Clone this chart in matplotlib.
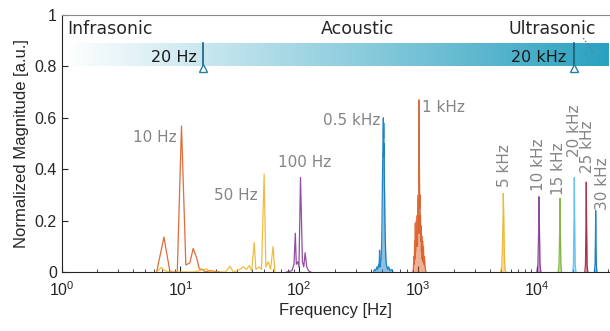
import numpy as np
import matplotlib
matplotlib.use("Agg")
import matplotlib.pyplot as plt
from matplotlib.colors import LinearSegmentedColormap

# ---------------- data ----------------
f10 = [6.3, 7.26, 8.16, 9.4, 10.2, 11.1, 12.0, 12.8, 13.7, 14.4, 15.4, 16.1, 17.7, 21.5]
m10 = [0.0, 0.136, 0.0, 0.0, 0.568, 0.027, 0.036, 0.092, 0.054, 0.012, 0.01, 0.0, 0.005, 0.0]

f50 = [6.3, 6.9, 7.4, 8.0, 13.0, 15.1, 16.6, 17.9, 24.0, 26.1, 27.8, 31.7, 33.8, 36.0, 37.9,
       39.7, 41.8, 43.1, 46.0, 48.1, 50.6, 52.3, 54.7, 57.3, 60.2, 62.3]
m50 = [0.0, 0.018, 0.005, 0.0, 0.0, 0.008, 0.012, 0.0, 0.0, 0.023, 0.0, 0.01, 0.02, 0.01, 0.025,
       0.005, 0.114, 0.01, 0.02, 0.01, 0.381, 0.02, 0.04, 0.01, 0.099, 0.0]

f100 = [78.3, 86.6, 90.3, 92.6, 94.4, 96.9, 99.4, 102.4, 106.3, 109.1, 112.0, 115.6, 119.6, 125.0]
m100 = [0.0, 0.005, 0.03, 0.151, 0.03, 0.04, 0.02, 0.368, 0.04, 0.02, 0.075, 0.02, 0.005, 0.0]

f500 = [420, 430, 440, 450, 458, 465, 470, 474, 478, 482, 486, 490, 494, 497, 500, 503, 506,
        508, 510, 512, 514, 516, 518, 520, 523, 526, 530, 535, 540, 548, 556, 565, 580, 600, 615]
m500 = [0.0, 0.01, 0.005, 0.02, 0.01, 0.03, 0.02, 0.085, 0.02, 0.03, 0.04, 0.06, 0.12, 0.2, 0.32,
        0.42, 0.5, 0.55, 0.6, 0.52, 0.58, 0.45, 0.5, 0.35, 0.3, 0.2, 0.12, 0.06, 0.03, 0.02, 0.01,
        0.02, 0.005, 0.01, 0.0]

f1k = [900, 912, 920, 928, 935, 942, 948, 953, 958, 963, 968, 973, 978, 983, 988, 993, 998,
       1003, 1008, 1013, 1018, 1022, 1027, 1032, 1037, 1042, 1047, 1053, 1060, 1067, 1075,
       1083, 1092, 1100, 1110, 1120, 1130, 1145, 1165]
m1k = [0.0, 0.01, 0.06, 0.03, 0.12, 0.05, 0.19, 0.08, 0.17, 0.1, 0.2, 0.12, 0.15, 0.22, 0.1,
       0.28, 0.15, 0.3, 0.18, 0.33, 0.67, 0.35, 0.4, 0.25, 0.3, 0.15, 0.22, 0.12, 0.18, 0.08,
       0.14, 0.05, 0.12, 0.04, 0.1, 0.03, 0.06, 0.02, 0.0]

f5k = [4950, 5050, 5120, 5180, 5215, 5260, 5330, 5400, 5480]
m5k = [0.0, 0.02, 0.08, 0.2, 0.306, 0.22, 0.06, 0.01, 0.0]

f10k = [10000, 10200, 10330, 10420, 10500, 10620, 10800]
m10k = [0.0, 0.03, 0.15, 0.293, 0.18, 0.03, 0.0]

f15k = [15100, 15350, 15520, 15640, 15760, 15920, 16150]
m15k = [0.0, 0.03, 0.14, 0.287, 0.16, 0.03, 0.0]

f20k = [20000, 20300, 20500, 20650, 20800, 21000, 21300]
m20k = [0.0, 0.03, 0.2, 0.368, 0.2, 0.03, 0.0]

f25k = [25300, 25650, 25900, 26050, 26200, 26450, 26800]
m25k = [0.0, 0.03, 0.2, 0.35, 0.19, 0.03, 0.0]

f30k = [30500, 30850, 31100, 31260, 31420, 31650, 32000]
m30k = [0.0, 0.03, 0.13, 0.239, 0.13, 0.03, 0.0]

# (freqs, magnitudes, colour, filled body)
series = [
    (f10, m10, "#D95319", False), (f50, m50, "#EDB120", False), (f100, m100, "#7E2F8E", False),
    (f500, m500, "#0072BD", True), (f1k, m1k, "#D95319", True), (f5k, m5k, "#EDB120", True),
    (f10k, m10k, "#7E2F8E", True), (f15k, m15k, "#77AC30", True), (f20k, m20k, "#4DBEEE", True),
    (f25k, m25k, "#A2142F", True), (f30k, m30k, "#0072BD", True),
]

# horizontal peak labels: text, x, y, ha
hlabels = ["10 Hz", "50 Hz", "100 Hz", "0.5 kHz", "1 kHz"]
hlabel_x = [9.3, 44.3, 66.2, 478, 1072]
hlabel_y = [0.525, 0.296, 0.426, 0.59, 0.64]
hlabel_ha = ["right", "right", "left", "right", "left"]

# rotated peak labels
vlabels = ["5 kHz", "10 kHz", "15 kHz", "20 kHz", "25 kHz", "30 kHz"]
vlabel_x = [5335, 10220, 15270, 20700, 26650, 35800]
vlabel_y = [0.33, 0.316, 0.30, 0.446, 0.386, 0.241]

regions = ["Infrasonic", "Acoustic", "Ultrasonic"]
region_x = [1.11, 312, 5745]
region_ha = ["left", "center", "left"]
region_y = 0.945

band_y = [0.80, 0.89]
limit_freqs = [15.4, 20500]
limit_labels = ["20 Hz", "20 kHz"]
limit_label_x = [13.7, 17800]
limit_label_y = 0.833

dotted_x = [24600, 30500]
dotted_y = [0.91, 0.848]

xlim = (1, 41250)
ylim = (0, 1)
yticks = [0, 0.2, 0.4, 0.6, 0.8, 1]
yticklabels = ["0", "0.2", "0.4", "0.6", "0.8", "1"]

# ---------------- figure ----------------
fig = plt.figure(figsize=(6.10, 3.31), dpi=100)
ax = fig.add_axes([0.1011, 0.1782, 0.8989, 0.7765])
ax.set_xscale("log")
ax.set_xlim(*xlim)
ax.set_ylim(*ylim)

# gradient band
cmap = LinearSegmentedColormap.from_list("band", ["#ffffff", "#2aa1c0"])
grad = np.linspace(0, 1, 512).reshape(1, -1)
ax.imshow(grad, cmap=cmap, extent=[0.005, 1.0, band_y[0], band_y[1]],
          transform=ax.get_yaxis_transform(), aspect="auto", zorder=0.5)

for fx, mx, c, filled in series:
    if filled:
        ax.fill_between(fx, 0, mx, color=c, alpha=0.45, lw=0, zorder=2.5)
    ax.plot(fx, mx, color=c, lw=0.9, alpha=0.85, zorder=3)

for t, x, y, ha in zip(hlabels, hlabel_x, hlabel_y, hlabel_ha):
    ax.text(x, y, t, ha=ha, va="center", fontsize=11, color="#858585",
            family="DejaVu Sans", zorder=4)
for t, x, y in zip(vlabels, vlabel_x, vlabel_y):
    ax.text(x, y, t, ha="center", va="bottom", rotation=90, fontsize=11,
            color="#858585", family="DejaVu Sans", zorder=4, clip_on=False)

for t, x, ha in zip(regions, region_x, region_ha):
    ax.text(x, region_y, t, ha=ha, va="center", fontsize=12.5, color="#262626",
            family="DejaVu Sans")

for fx, t, lx in zip(limit_freqs, limit_labels, limit_label_x):
    ax.plot([fx, fx], band_y, color="#1b5e76", lw=1.2, zorder=5)
    ax.plot([fx], [band_y[0] - 0.008], marker="^", ms=5.5, mfc="white",
            mec="#2b7f9c", mew=1.0, zorder=6, clip_on=False)
    ax.text(lx, limit_label_y, t, ha="right", va="center", fontsize=11.5,
            color="#1a1a1a", family="DejaVu Sans", zorder=5)

ax.plot(dotted_x, dotted_y, ls=(0, (1, 1.5)), color="#777777", lw=1.0, zorder=5)

# axes styling
ax.set_yticks(yticks)
ax.set_yticklabels(yticklabels)
ax.tick_params(axis="both", which="both", direction="in", colors="#262626",
               labelsize=11.5, top=False, right=False)
ax.tick_params(axis="both", which="major", length=4, width=0.8)
ax.tick_params(axis="x", which="minor", length=2.5, width=0.6)
ax.tick_params(axis="x", which="major", pad=6)
for lab in ax.get_xticklabels() + ax.get_yticklabels():
    lab.set_family("Liberation Sans")
ax.spines["right"].set_visible(False)
ax.spines["top"].set_color("#8a8a8a")
ax.spines["left"].set_color("#262626")
ax.spines["bottom"].set_color("#262626")
for s in ax.spines.values():
    s.set_linewidth(0.8)

ax.set_xlabel("Frequency [Hz]", fontsize=12, family="Liberation Sans",
              color="#262626", labelpad=3)
ax.set_ylabel("Normalized Magnitude [a.u.]", fontsize=12, family="Liberation Sans",
              color="#262626", labelpad=4)

fig.savefig("out.png", dpi=100)
